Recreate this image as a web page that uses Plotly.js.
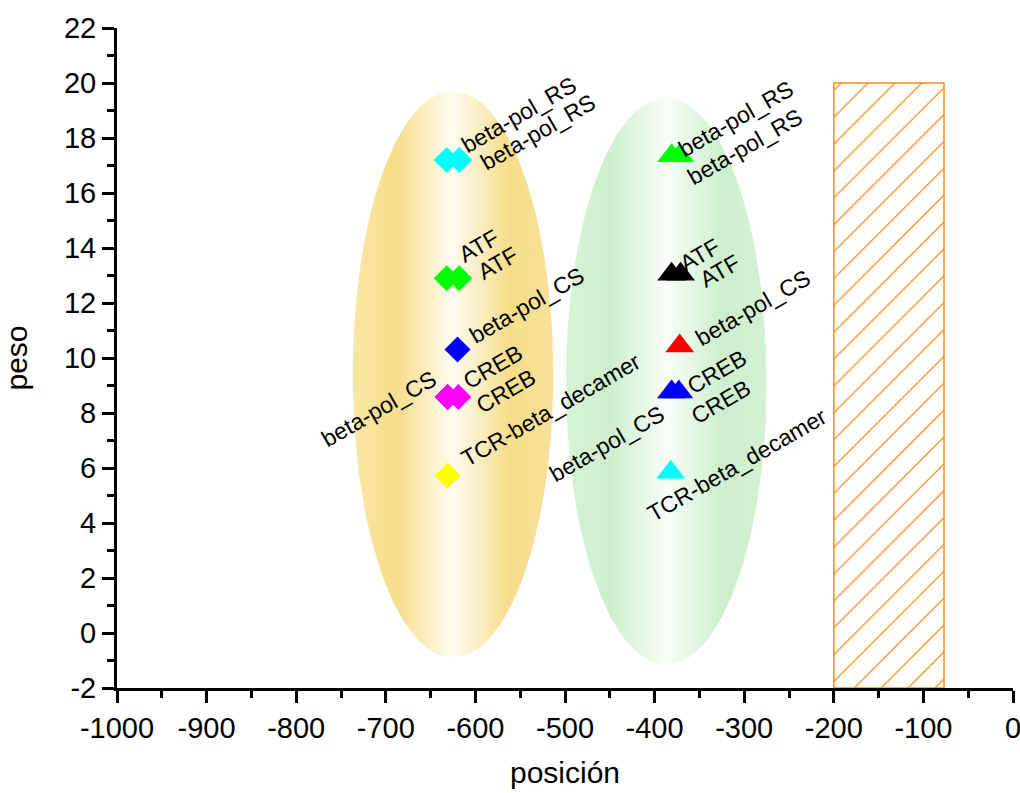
<!DOCTYPE html>
<html>
<head>
<meta charset="utf-8">
<script src="https://cdn.plot.ly/plotly-3.0.1.min.js"></script>
<style>html,body{margin:0;padding:0;background:#fff;}#chart{width:1020px;height:793px;}</style>
</head>
<body>
<div id="chart"></div>
<script>
// ---------- data ----------
// Group 1 (diamonds, yellow ellipse)
const g1Names  = ["beta-pol_RS","beta-pol_RS","ATF","ATF","beta-pol_CS","beta-pol_CS","CREB","CREB","TCR-beta_decamer"];
const g1X      = [-632, -618, -632, -618, -620, -631, -631, -619, -631];
const g1Y      = [17.2, 17.2, 12.9, 12.9, 10.31, 8.58, 8.58, 8.58, 5.73];
// Group 2 (triangles, green ellipse)
const g2Names  = ["beta-pol_RS","beta-pol_RS","ATF","ATF","beta-pol_CS","beta-pol_CS","CREB","CREB","TCR-beta_decamer"];
const g2X      = [-381, -372, -381, -371, -372, -381, -381, -373, -382];
const g2Y      = [17.35, 17.35, 13.05, 13.05, 10.44, 8.76, 8.76, 8.76, 5.85];
// hatched region
const regionX  = [-200, -77];
const regionY  = [-2, 20];
// ellipses (center x, center y, half width, half height)
const ellipse1 = [-625, 9.4, 112, 10.3];
const ellipse2 = [-387, 9.15, 112, 10.3];
// axis ticks
const xTickVals = [-1000,-900,-800,-700,-600,-500,-400,-300,-200,-100,0];
const xTickText = ["-1000","-900","-800","-700","-600","-500","-400","-300","-200","-100","0"];
const yTickVals = [-2,0,2,4,6,8,10,12,14,16,18,20,22];
const yTickText = ["-2","0","2","4","6","8","10","12","14","16","18","20","22"];

// ---------- styles ----------
const g1Colors = ["#00FFFF","#00FFFF","#00FF00","#00FF00","#0000FF","#0000FF","#FF00FF","#FF00FF","#FFFF00"];
const g2Colors = ["#00FF00","#00FF00","#000000","#000000","#FF0000","#FF0000","#0000FF","#0000FF","#00FFFF"];
// label offsets in pixels (dx right, dy down) of the label centre from the point
const g1Shift = [[72,-45],[79,-28],[32,-32],[39,-15],[70,-44],[-69,12],[45,-30],[48,-6],[103,-65]];
const g2Shift = [[64,-37],[65,-9],[28,-19],[39,-3],[73,-38],[-65,52],[45,-20],[42,10],[66,-7]];

const FONT = "Liberation Sans, Arial, Helvetica, sans-serif";

function ellipseTrace(e, colorscale) {
  const xs = [], ys = [];
  const n = 180;
  for (let i = 0; i <= n; i++) {
    const t = 2 * Math.PI * i / n;
    xs.push(e[0] + e[2] * Math.cos(t));
    ys.push(e[1] + e[3] * Math.sin(t));
  }
  return {
    type: "scatter", mode: "lines", x: xs, y: ys,
    fill: "toself", line: {width: 0, color: "rgba(0,0,0,0)"},
    fillgradient: {type: "horizontal", colorscale: colorscale},
    hoverinfo: "skip", showlegend: false
  };
}

const traces = [];
traces.push(ellipseTrace(ellipse1, [[0,"#FAE6A6"],[0.22,"#F7DD8B"],[0.5,"#FFFDF3"],[0.78,"#F7DD8B"],[1,"#F8E199"]]));
traces.push(ellipseTrace(ellipse2, [[0,"#D6F3D6"],[0.22,"#CDEFCD"],[0.5,"#F9FEF9"],[0.78,"#CDEFCD"],[1,"#D3F1D3"]]));

traces.push({
  type: "bar",
  x: [(regionX[0] + regionX[1]) / 2],
  width: [regionX[1] - regionX[0]],
  base: [regionY[0]],
  y: [regionY[1] - regionY[0]],
  marker: {
    color: "rgba(255,255,255,0)",
    line: {color: "#FF8C1A", width: 1.5},
    pattern: {shape: "/", fgcolor: "#FF8C1A", bgcolor: "rgba(255,255,255,0)", size: 19, solidity: 0.07}
  },
  hoverinfo: "skip", showlegend: false
});

g1X.forEach((_, i) => traces.push({
  type: "scatter", mode: "markers", x: [g1X[i]], y: [g1Y[i]],
  marker: {symbol: "diamond", size: 20, color: g1Colors[i], line: {width: 0}},
  hoverinfo: "skip", showlegend: false
}));
g2X.forEach((_, i) => traces.push({
  type: "scatter", mode: "markers", x: [g2X[i]], y: [g2Y[i]],
  marker: {symbol: "triangle-up", size: 25, color: g2Colors[i], line: {width: 0}},
  hoverinfo: "skip", showlegend: false
}));

const annotations = [];
function addLabels(names, xs, ys, shifts) {
  names.forEach((n, i) => annotations.push({
    x: xs[i], y: ys[i], xref: "x", yref: "y", text: n, showarrow: false,
    textangle: -30, xanchor: "center", yanchor: "middle",
    xshift: shifts[i][0], yshift: -shifts[i][1],
    font: {family: FONT, size: 23, color: "#000"}
  }));
}
addLabels(g1Names, g1X, g1Y, g1Shift);
addLabels(g2Names, g2X, g2Y, g2Shift);

const layout = {
  width: 1020, height: 793,
  margin: {l: 117, r: 7, t: 28, b: 105},
  paper_bgcolor: "#fff", plot_bgcolor: "#fff",
  font: {family: FONT, color: "#000"},
  showlegend: false,
  xaxis: {
    range: [-1000, 0], showgrid: false, zeroline: false,
    showline: true, linecolor: "#000", linewidth: 3,
    tickmode: "array", tickvals: xTickVals, ticktext: xTickText,
    ticks: "outside", ticklen: 12, tickwidth: 3, tickcolor: "#000",
    ticklabeloverflow: "allow",
    tickfont: {family: FONT, size: 29, color: "#000"},
    minor: {tickmode: "linear", tick0: -1000, dtick: 50, ticks: "outside", ticklen: 7, tickwidth: 3, tickcolor: "#000", showgrid: false},
    title: {text: "posición", font: {family: FONT, size: 30, color: "#000"}, standoff: 20}
  },
  yaxis: {
    range: [-2, 22], showgrid: false, zeroline: false,
    showline: true, linecolor: "#000", linewidth: 3,
    tickmode: "array", tickvals: yTickVals, ticktext: yTickText,
    ticks: "outside", ticklen: 12, tickwidth: 3, tickcolor: "#000",
    ticklabeloverflow: "allow",
    tickfont: {family: FONT, size: 29, color: "#000"},
    minor: {tickmode: "linear", tick0: -2, dtick: 1, ticks: "outside", ticklen: 7, tickwidth: 3, tickcolor: "#000", showgrid: false},
    title: {text: "peso", font: {family: FONT, size: 30, color: "#000"}, standoff: 28}
  },
  annotations: annotations
};

Plotly.newPlot("chart", traces, layout, {staticPlot: true, displayModeBar: false});
</script>
</body>
</html>
